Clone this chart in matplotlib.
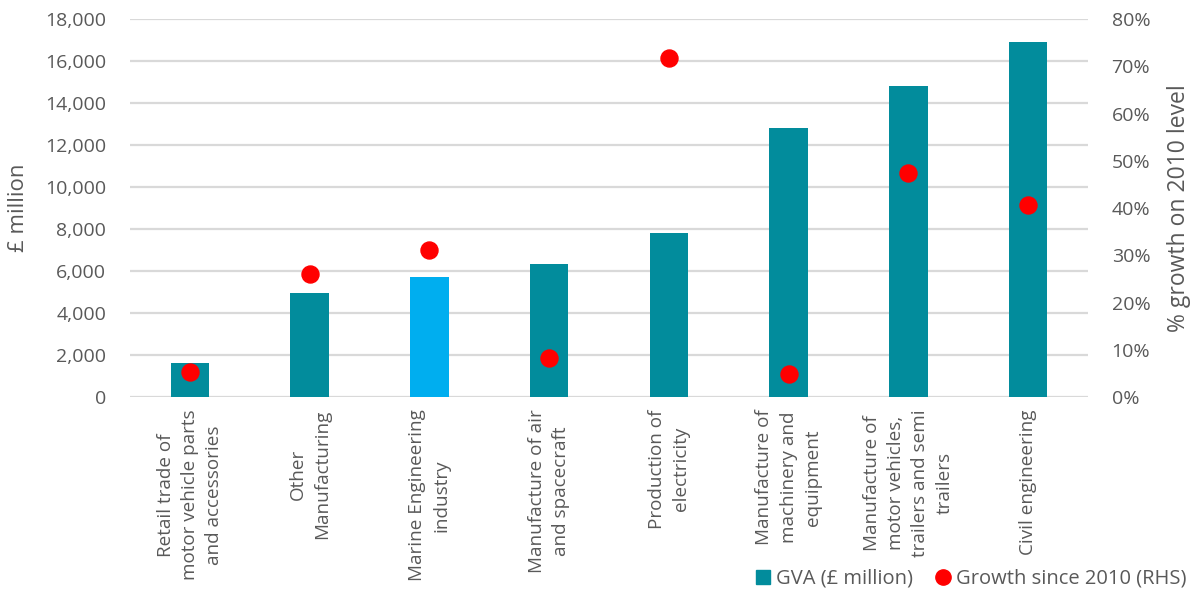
import matplotlib.pyplot as plt
import numpy as np
from matplotlib.lines import Line2D
from matplotlib.ticker import FuncFormatter, MultipleLocator

plt.rcParams['font.family'] = ['Open Sans', 'DejaVu Sans']

categories = [
    'Retail trade of\nmotor vehicle parts\nand accessories',
    'Other\nManufacturing',
    'Marine Engineering\nindustry',
    'Manufacture of air\nand spacecraft',
    'Production of\nelectricity',
    'Manufacture of\nmachinery and\nequipment',
    'Manufacture of\nmotor vehicles,\ntrailers and semi\ntrailers',
    'Civil engineering',
]
gva = [1620, 4970, 5710, 6330, 7790, 12830, 14810, 16920]
growth = [5.4, 26.0, 31.1, 8.3, 71.7, 4.9, 47.5, 40.7]

TEAL = '#028C9C'
BLUE = '#00AEEF'
GREY_TXT = '#595959'
GRID = '#D9D9D9'

bar_colors = [TEAL] * len(gva)
bar_colors[2] = BLUE

fig = plt.figure(figsize=(11.99, 5.94), dpi=100)
ax = fig.add_axes([0.1084, 0.3316, 0.7990, 0.6364])
ax2 = ax.twinx()

x = np.arange(len(categories))
ax.bar(x, gva, width=0.32, color=bar_colors, zorder=2)
ax2.scatter(x, growth, s=150, color='#FF0000', zorder=3)

ax.set_xlim(-0.5, len(categories) - 0.5)
ax.set_ylim(0, 18000)
ax2.set_ylim(0, 80)
ax.yaxis.set_major_locator(MultipleLocator(2000))
ax2.yaxis.set_major_locator(MultipleLocator(10))
ax.yaxis.set_major_formatter(FuncFormatter(lambda v, p: f'{v:,.0f}'))
ax2.yaxis.set_major_formatter(FuncFormatter(lambda v, p: f'{v:.0f}%'))

ax.grid(True, axis='y', color=GRID, linewidth=1.6, zorder=0)
ax.set_axisbelow(True)
for a in (ax, ax2):
    for s in a.spines.values():
        s.set_visible(False)
    a.tick_params(length=0, labelsize=14, labelcolor=GREY_TXT)
ax.tick_params(axis='y', pad=17)
ax2.tick_params(axis='y', pad=17)

ax.set_xticks(x)
ax.set_xticklabels([])
for xi, lab in zip(x, categories):
    ax.annotate(lab, xy=(xi, 0), xycoords=('data', 'axes fraction'),
                xytext=(0, -9), textcoords='offset points',
                rotation=90, ha='center', va='top', multialignment='center',
                linespacing=1.45, fontsize=13.6, color=GREY_TXT)

ax.set_ylabel('£ million', fontsize=16, color=GREY_TXT, labelpad=12)
ax2.set_ylabel('% growth on 2010 level', fontsize=16.5, color=GREY_TXT, labelpad=12)

handles = [
    Line2D([], [], marker='s', linestyle='none', markersize=10, color=TEAL),
    Line2D([], [], marker='o', linestyle='none', markersize=11, color='#FF0000'),
]
fig.legend(handles, ['GVA (£ million)', 'Growth since 2010 (RHS)'],
           loc='lower right', bbox_to_anchor=(1.005, -0.022), ncol=2, frameon=False,
           fontsize=14.5, handletextpad=0.25, columnspacing=1.1,
           labelcolor=GREY_TXT, handlelength=0.8)

fig.savefig('out.png', dpi=100)
